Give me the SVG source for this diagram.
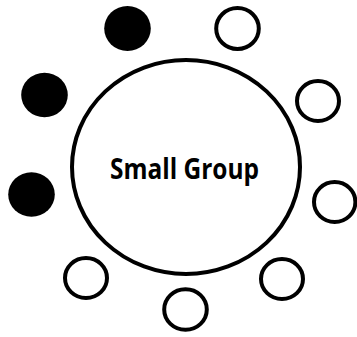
<svg xmlns="http://www.w3.org/2000/svg" width="357" height="337" viewBox="0 0 357 337">
<style>
.big{fill:#fff;stroke:#000;stroke-width:4}
.open{fill:#fff;stroke:#000;stroke-width:4}
.filled{fill:#000;stroke:none}
.lbl{font-family:"Open Sans","Liberation Sans",sans-serif;font-weight:bold;font-size:28px;fill:#000}
</style>
<rect width="357" height="337" fill="#fff"/>
<g id="group">
<ellipse class="big" cx="186" cy="167" rx="114" ry="107"/>
<text class="lbl" x="110" y="179" textLength="149" lengthAdjust="spacingAndGlyphs">Small Group</text>
</g>
<g id="p1"><ellipse class="filled" cx="127.5" cy="28.5" rx="23.3" ry="22.5"/></g>
<g id="p2"><ellipse class="filled" cx="44.5" cy="95" rx="23.3" ry="22.2"/></g>
<g id="p3"><ellipse class="filled" cx="31.5" cy="194.5" rx="23.3" ry="22.3"/></g>
<g id="p4"><ellipse class="open" cx="237.5" cy="28.5" rx="21.3" ry="20.5"/></g>
<g id="p5"><ellipse class="open" cx="318" cy="101" rx="21" ry="20"/></g>
<g id="p6"><ellipse class="open" cx="334.7" cy="202" rx="20.7" ry="20"/></g>
<g id="p7"><ellipse class="open" cx="282" cy="279" rx="21" ry="20"/></g>
<g id="p8"><ellipse class="open" cx="185.5" cy="309.5" rx="21.3" ry="20.3"/></g>
<g id="p9"><ellipse class="open" cx="86" cy="278" rx="21" ry="20"/></g>
<g id="connectors"></g>
</svg>
